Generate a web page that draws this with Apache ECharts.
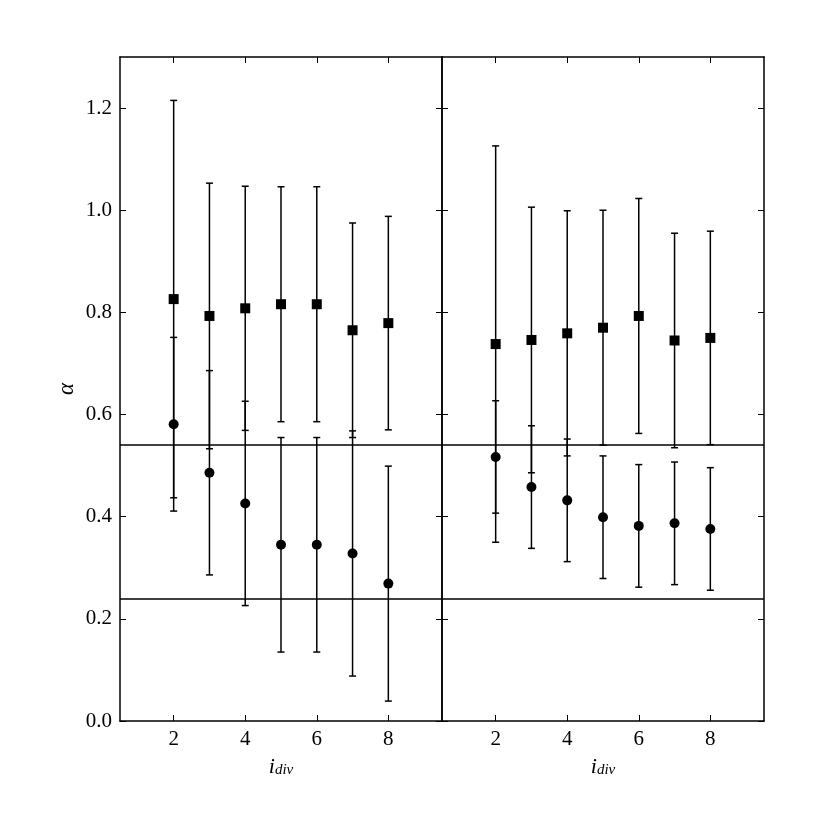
<!DOCTYPE html>
<html>
<head>
<meta charset="utf-8">
<script src="https://cdn.jsdelivr.net/npm/echarts@6/dist/echarts.min.js"></script>
<style>html,body{margin:0;padding:0;background:#fff}#c{width:830px;height:830px}</style>
</head>
<body>
<div id="c"></div>
<script>
const xs = [2, 3, 4, 5, 6, 7, 8];
const leftSquare    = [0.826, 0.793, 0.808, 0.816, 0.816, 0.765, 0.779];
const leftSquareErr = [0.389, 0.260, 0.239, 0.230, 0.230, 0.210, 0.209];
const leftCircle    = [0.581, 0.486, 0.426, 0.345, 0.345, 0.328, 0.269];
const leftCircleErr = [0.170, 0.200, 0.200, 0.210, 0.210, 0.240, 0.230];
const rightSquare    = [0.738, 0.746, 0.759, 0.770, 0.793, 0.745, 0.750];
const rightSquareErr = [0.388, 0.260, 0.240, 0.230, 0.230, 0.210, 0.209];
const rightCircle    = [0.517, 0.458, 0.432, 0.399, 0.382, 0.387, 0.376];
const rightCircleErr = [0.110, 0.120, 0.120, 0.120, 0.120, 0.120, 0.120];
const hLines = [0.542, 0.241];
const xTicks = [2, 4, 6, 8];
const yTicks = [0.0, 0.2, 0.4, 0.6, 0.8, 1.0, 1.2];
const yLabel = 'α';

const FONT = '"Liberation Serif", "DejaVu Serif", serif';
const chart = echarts.init(document.getElementById('c'));

function makeX(gi, pos) {
  const bottom = pos === 'bottom';
  return {
    gridIndex: gi, type: 'value', min: 0.5, max: 9.5, position: pos,
    axisLine: { show: true, onZero: false, lineStyle: { color: '#000', width: 1.5 } },
    axisTick: { show: true, inside: true, length: 6, customValues: xTicks, lineStyle: { color: '#000', width: 1 } },
    axisLabel: { show: bottom, customValues: xTicks, color: '#000', fontFamily: FONT, fontSize: 21, margin: 8 },
    splitLine: { show: false },
    name: bottom ? '{i|i}{s|div}' : '',
    nameLocation: 'middle', nameGap: 35,
    nameTextStyle: {
      rich: {
        i: { fontFamily: FONT, fontStyle: 'italic', fontSize: 22, color: '#000', lineHeight: 22 },
        s: { fontFamily: FONT, fontStyle: 'italic', fontSize: 15, color: '#000', lineHeight: 12, verticalAlign: 'bottom' }
      }
    }
  };
}
function makeY(gi, pos, labels) {
  return {
    gridIndex: gi, type: 'value', min: 0, max: 1.3, position: pos,
    axisLine: { show: true, onZero: false, lineStyle: { color: '#000', width: 1.5 } },
    axisTick: { show: true, inside: true, length: 6, customValues: yTicks, lineStyle: { color: '#000', width: 1 } },
    axisLabel: { show: labels, customValues: yTicks, color: '#000', fontFamily: FONT, fontSize: 21, margin: 8,
                 formatter: v => Number(v).toFixed(1) },
    splitLine: { show: false },
    name: labels ? yLabel : '',
    nameLocation: 'middle', nameGap: 42, nameRotate: 90,
    nameTextStyle: { fontFamily: FONT, fontStyle: 'italic', fontSize: 23, color: '#000' }
  };
}

function errRender(params, api) {
  const x = api.value(0), y = api.value(1), e = api.value(2);
  const t = api.coord([x, y + e]);
  const b = api.coord([x, y - e]);
  const cw = 3.5;
  const st = { stroke: '#000', lineWidth: 1.5 };
  return {
    type: 'group',
    children: [
      { type: 'line', shape: { x1: t[0], y1: t[1], x2: b[0], y2: b[1] }, style: st },
      { type: 'line', shape: { x1: t[0] - cw, y1: t[1], x2: t[0] + cw, y2: t[1] }, style: st },
      { type: 'line', shape: { x1: b[0] - cw, y1: b[1], x2: b[0] + cw, y2: b[1] }, style: st }
    ]
  };
}

function triples(v, e) { return xs.map((x, i) => [x, v[i], e[i]]); }
function pairs(v) { return xs.map((x, i) => [x, v[i]]); }

const series = [];
[[leftSquare, leftSquareErr, leftCircle, leftCircleErr], [rightSquare, rightSquareErr, rightCircle, rightCircleErr]].forEach((d, gi) => {
  const xi = gi * 2, yi = gi * 2;
  series.push({
    type: 'line', xAxisIndex: xi, yAxisIndex: yi, data: [], silent: true,
    markLine: {
      silent: true, symbol: 'none', label: { show: false },
      lineStyle: { color: '#000', width: 1.5, type: 'solid', opacity: 1 },
      data: hLines.map(v => ({ yAxis: v }))
    }
  });
  series.push({ type: 'custom', xAxisIndex: xi, yAxisIndex: yi, renderItem: errRender, data: triples(d[0], d[1]), z: 2, silent: true });
  series.push({ type: 'custom', xAxisIndex: xi, yAxisIndex: yi, renderItem: errRender, data: triples(d[2], d[3]), z: 2, silent: true });
  series.push({ type: 'scatter', xAxisIndex: xi, yAxisIndex: yi, symbol: 'rect', symbolSize: 10, itemStyle: { color: '#000', opacity: 1 }, data: pairs(d[0]), z: 3, silent: true });
  series.push({ type: 'scatter', xAxisIndex: xi, yAxisIndex: yi, symbol: 'circle', symbolSize: 10, itemStyle: { color: '#000', opacity: 1 }, data: pairs(d[2]), z: 3, silent: true });
});

chart.setOption({
  animation: false,
  backgroundColor: '#fff',
  grid: [
    { left: 120, top: 57, width: 322, height: 664 },
    { left: 442, top: 57, width: 322, height: 664 }
  ],
  xAxis: [makeX(0, 'bottom'), makeX(0, 'top'), makeX(1, 'bottom'), makeX(1, 'top')],
  yAxis: [makeY(0, 'left', true), makeY(0, 'right', false), makeY(1, 'left', false), makeY(1, 'right', false)],
  series: series
});
</script>
</body>
</html>
